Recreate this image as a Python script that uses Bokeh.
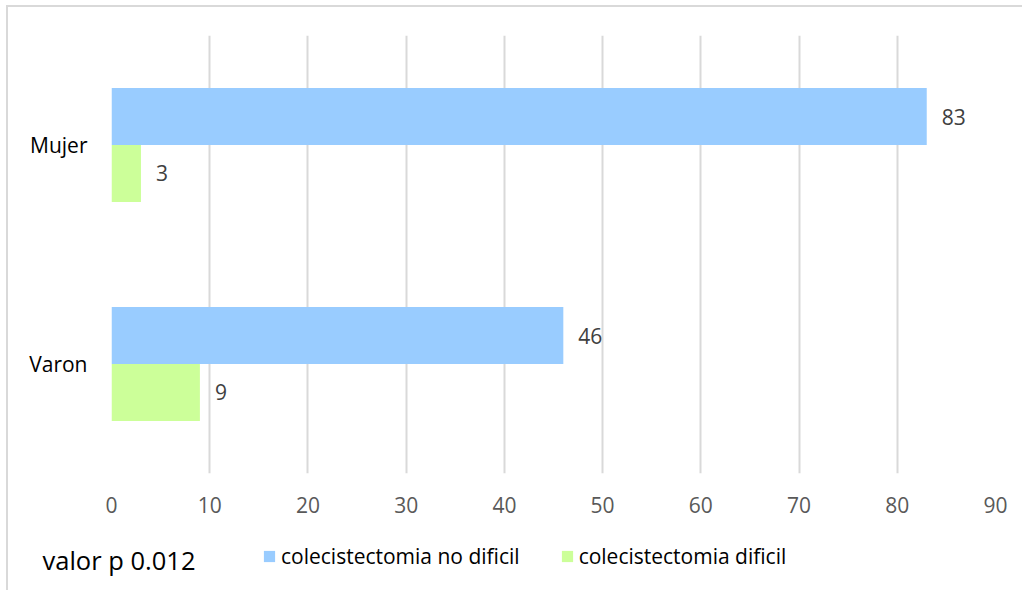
from bokeh.plotting import figure
from bokeh.layouts import column
from bokeh.models import Range1d, FixedTicker, Legend, LegendItem, Label
from bokeh.core.properties import value
from bokeh.embed import file_html
from bokeh.resources import INLINE

# Data
categories = ["Varon", "Mujer"]
no_dificil = [46, 83]
dificil = [9, 3]
series_names = ["colecistectomia no dificil", "colecistectomia dificil"]
x_ticks = [0, 10, 20, 30, 40, 50, 60, 70, 80, 90]
p_value_text = "valor p 0.012"

FONT = "Open Sans"
BLUE = "#99CCFF"
GREEN = "#CCFF99"
BORDER = "2px solid #D9D9D9"

# Category centres on a numeric axis; the two series sit above/below each centre
centers = [0.5 + i for i in range(len(categories))]
bar_h = 0.26
blue_y = [c + bar_h / 2 for c in centers]
green_y = [c - bar_h / 2 for c in centers]

W = 1016

# ---- main chart -------------------------------------------------------------
p = figure(
    width=W, height=520,
    x_range=Range1d(0, 90), y_range=Range1d(0, 2),
    output_backend="svg", toolbar_location=None,
    min_border_left=103, min_border_right=29,
    min_border_top=28, min_border_bottom=54,
)
p.frame_align = False
p.styles = {"margin-left": "6px", "margin-top": "5px",
            "border-left": BORDER, "border-top": BORDER}
p.outline_line_color = None
p.background_fill_color = "white"
p.border_fill_color = "white"

p.hbar(y=blue_y, left=0, right=no_dificil, height=bar_h,
       fill_color=BLUE, line_color=None)
p.hbar(y=green_y, left=0, right=dificil, height=bar_h,
       fill_color=GREEN, line_color=None)

# Value labels at the end of each bar
p.text(x=no_dificil, y=blue_y, text=[str(v) for v in no_dificil],
       x_offset=15, text_baseline="middle", text_align="left",
       text_font=value(FONT), text_font_size="21px", text_color="#404040")
p.text(x=dificil, y=green_y, text=[str(v) for v in dificil],
       x_offset=15, text_baseline="middle", text_align="left",
       text_font=value(FONT), text_font_size="21px", text_color="#404040")

# Grid: vertical lines only
p.xgrid.ticker = FixedTicker(ticks=x_ticks)
p.xgrid.grid_line_color = "#D9D9D9"
p.xgrid.grid_line_width = 2
p.ygrid.visible = False

xa = p.xaxis[0]
xa.ticker = FixedTicker(ticks=x_ticks)
xa.axis_line_color = None
xa.major_tick_line_color = None
xa.minor_tick_line_color = None
xa.major_label_text_font = FONT
xa.major_label_text_font_size = "21px"
xa.major_label_text_color = "#595959"
xa.major_label_standoff = 17

ya = p.yaxis[0]
ya.ticker = FixedTicker(ticks=centers)
ya.major_label_overrides = {c: name for c, name in zip(centers, categories)}
ya.axis_line_color = None
ya.major_tick_line_color = None
ya.minor_tick_line_color = None
ya.major_label_text_font = FONT
ya.major_label_text_font_size = "21px"
ya.major_label_text_color = "#000000"
ya.major_label_standoff = 18

# ---- legend strip -----------------------------------------------------------
H2 = 65
leg = figure(
    width=W, height=H2, x_range=Range1d(0, W), y_range=Range1d(0, H2),
    output_backend="svg", toolbar_location=None,
    min_border_left=0, min_border_right=0, min_border_top=0, min_border_bottom=0,
)
leg.frame_align = False
leg.styles = {"margin-left": "6px", "border-left": BORDER}
leg.axis.visible = False
leg.grid.visible = False
leg.outline_line_color = None
leg.background_fill_color = "white"
leg.border_fill_color = "white"

# Series glyphs for the legend swatches; their single row lies outside the strip's view
s_blue = leg.hbar(y=[-H2], left=[0], right=[no_dificil[-1]], height=1,
                  fill_color=BLUE, line_color=None)
s_green = leg.hbar(y=[-H2], left=[0], right=[dificil[-1]], height=1,
                   fill_color=GREEN, line_color=None)

legend = Legend(
    items=[LegendItem(label=series_names[0], renderers=[s_blue]),
           LegendItem(label=series_names[1], renderers=[s_green])],
    orientation="horizontal", location=(254, 20),
    glyph_width=14, glyph_height=14, label_standoff=5, spacing=40,
    padding=0, margin=0, border_line_color=None, background_fill_alpha=0,
    label_text_font=FONT, label_text_font_size="21px", label_text_color="#000000",
)
leg.add_layout(legend, "center")

leg.add_layout(Label(x=34, y=30.5, text=p_value_text, text_baseline="alphabetic",
                     text_font=FONT, text_font_size="25.5px", text_color="#000000"))

layout = column(p, leg, spacing=0)

open("out.html", "w").write(file_html(layout, INLINE))
